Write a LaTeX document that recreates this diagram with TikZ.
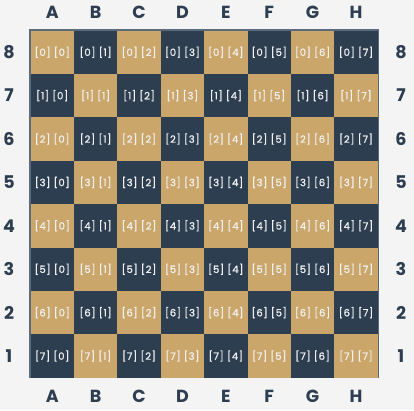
\documentclass[tikz,border=0pt]{standalone}
\usepackage{fontspec}
\setmainfont{Poppins}
\newfontfamily\cellfont{Poppins}[FakeBold=1.2, LetterSpace=6]
\usetikzlibrary{calc}

\definecolor{boardtan}{HTML}{CBA66A}
\definecolor{boardnavy}{HTML}{2D3E50}
\definecolor{pagegray}{HTML}{F4F4F4}
\definecolor{rimgray}{HTML}{5B6B7B}

\begin{document}
\begin{tikzpicture}[x=1pt, y=-1pt,
    cell/.style={minimum size=43.4pt, inner sep=0pt, text=white!94!black,
        font=\cellfont\fontsize{10}{12}\selectfont},
    coordlabel/.style={text=boardnavy, font=\fontsize{17.5}{20}\selectfont\bfseries}]

% --- page and frame ---
\fill[pagegray] (0,0) rectangle (414,410);
\useasboundingbox (0,0) rectangle (414,410);
\def\sqSize{43.4}
\def\boardX{30.5}
\def\boardY{30.5}
\draw[rimgray, line width=2pt] (29.5,29.5) rectangle (378,377);

% --- squares with their index pairs ---
\foreach \r in {0,...,7} {
    \foreach \c in {0,...,7} {
        \pgfmathsetmacro{\isTan}{mod(\r+\c,2)==0}
        \ifdim\isTan pt>0.5pt \def\sqColor{boardtan}\else\def\sqColor{boardnavy}\fi
        \node[cell, fill=\sqColor] (sq-\r-\c) at ({\boardX+(\c+0.5)*\sqSize}, {\boardY+(\r+0.5)*\sqSize}) {[\r] [\c]};
    }
}

% --- file letters, top and bottom ---
\foreach \f [count=\c from 0] in {A,B,C,D,E,F,G,H} {
    \node[coordlabel] (top-\f) at ({\boardX+(\c+0.5)*\sqSize}, 12) {\f};
    \node[coordlabel] (bot-\f) at ({\boardX+(\c+0.5)*\sqSize}, 396) {\f};
}

% --- rank numbers, left and right ---
\foreach \r in {0,...,7} {
    \pgfmathtruncatemacro{\rank}{8-\r}
    \node[coordlabel] (left-\rank) at (9, {\boardY+(\r+0.5)*\sqSize}) {\rank};
    \node[coordlabel] (right-\rank) at (401, {\boardY+(\r+0.5)*\sqSize}) {\rank};
}

\end{tikzpicture}
\end{document}
